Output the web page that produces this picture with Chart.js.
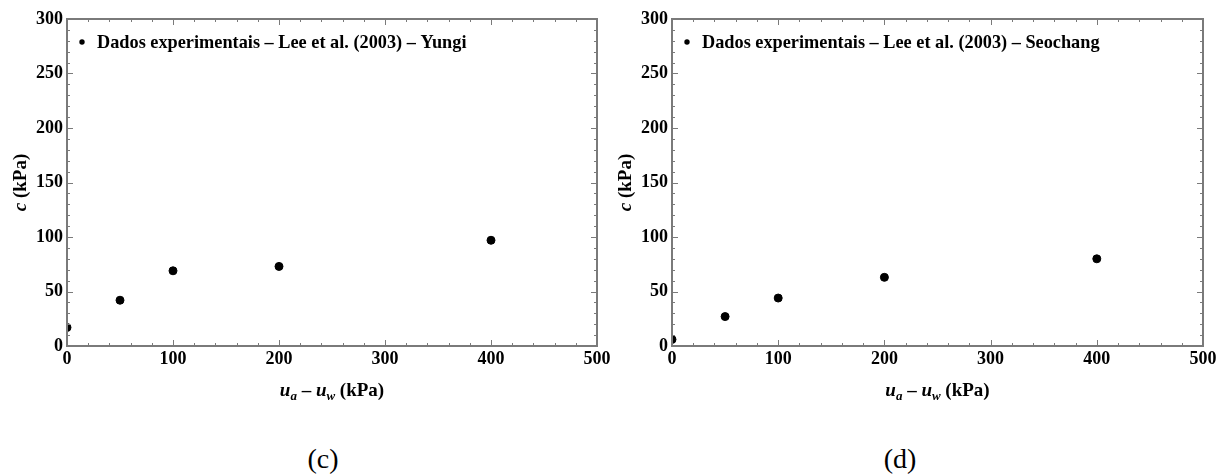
<!DOCTYPE html>
<html>
<head>
<meta charset="utf-8">
<script src="https://cdn.jsdelivr.net/npm/chart.js@4.4.1/dist/chart.umd.min.js"></script>
<style>
  body { margin: 0; background: #fff; width: 1217px; height: 475px; position: relative; overflow: hidden; }
  .panel { position: absolute; top: 0; height: 420px; }
  .cap { position: absolute; top: 444px; width: 100px; text-align: center;
         font: 28px "Liberation Serif", serif; line-height: 30px; color: #000; }
</style>
</head>
<body>
<div class="panel" style="left:0;width:620px"><canvas id="chartC"></canvas></div>
<div class="panel" style="left:605px;width:612px"><canvas id="chartD"></canvas></div>
<div class="cap" style="left:273px">(c)</div>
<div class="cap" style="left:850px">(d)</div>
<script>
// suction (kPa) and apparent cohesion (kPa)
const suction = [0, 50, 100, 200, 400];
const cohesionYungi = [17, 42, 69, 73, 97];
const cohesionSeochang = [6, 27, 44, 63, 80];

const xTicks = [0, 100, 200, 300, 400, 500];
const yTicks = [0, 50, 100, 150, 200, 250, 300];
const xMinorStep = 20;
const yMinorStep = 10;

const serif = '"Liberation Serif", "Times New Roman", serif';
const axisGray = '#7a7a7a';

// closed frame with inward ticks on all four sides
const framePlugin = {
  id: 'frame',
  afterDatasetsDraw(chart) {
    const ctx = chart.ctx;
    const { left, right, top, bottom } = chart.chartArea;
    const xs = chart.scales.x, ys = chart.scales.y;
    ctx.save();
    ctx.strokeStyle = axisGray;
    ctx.lineWidth = 1;
    ctx.beginPath();
    for (let v = xs.min; v <= xs.max; v += xMinorStep) {
      const px = Math.round(xs.getPixelForValue(v)) + 0.5;
      const len = xTicks.includes(v) ? 6 : 3;
      ctx.moveTo(px, bottom); ctx.lineTo(px, bottom - len);
      ctx.moveTo(px, top); ctx.lineTo(px, top + len);
    }
    for (let v = ys.min; v <= ys.max; v += yMinorStep) {
      const py = Math.round(ys.getPixelForValue(v)) + 0.5;
      const len = yTicks.includes(v) ? 6 : 3;
      ctx.moveTo(left, py); ctx.lineTo(left + len, py);
      ctx.moveTo(right, py); ctx.lineTo(right - len, py);
    }
    ctx.stroke();
    ctx.lineWidth = 2;
    ctx.strokeRect(left, top, right - left, bottom - top);
    ctx.restore();
  },
  afterDraw(chart) {
    const ctx = chart.ctx;
    const { left, right, top, bottom } = chart.chartArea;
    ctx.save();
    ctx.fillStyle = '#000';

    // legend inside the plot
    ctx.beginPath();
    ctx.arc(left + 15, top + 23, 2.7, 0, Math.PI * 2);
    ctx.fill();
    ctx.font = 'bold 18.3px ' + serif;
    ctx.textBaseline = 'alphabetic';
    ctx.textAlign = 'left';
    ctx.fillText(chart.data.datasets[0].label, left + 30, top + 29);

    // x title: u_a − u_w (kPa)
    const big = 'bold 19px ' + serif, bigI = 'italic bold 19px ' + serif, sub = 'italic bold 13px ' + serif;
    const parts = [
      [bigI, 'u', 0], [sub, 'a', 4], [big, ' \u2013 ', 0],
      [bigI, 'u', 0], [sub, 'w', 4], [big, ' (kPa)', 0]
    ];
    let w = 0;
    parts.forEach(p => { ctx.font = p[0]; w += ctx.measureText(p[1]).width; });
    let x = (left + right) / 2 - w / 2;
    const base = bottom + 50;
    parts.forEach(p => {
      ctx.font = p[0];
      ctx.fillText(p[1], x, base + p[2]);
      x += ctx.measureText(p[1]).width;
    });

    // y title: c (kPa)
    const yParts = [[bigI, 'c', 0], [big, ' (kPa)', 0]];
    let h = 0;
    yParts.forEach(p => { ctx.font = p[0]; h += ctx.measureText(p[1]).width; });
    ctx.translate(26, (top + bottom) / 2);
    ctx.rotate(-Math.PI / 2);
    let t = -h / 2;
    yParts.forEach(p => {
      ctx.font = p[0];
      ctx.fillText(p[1], t, 0);
      t += ctx.measureText(p[1]).width;
    });
    ctx.restore();
  }
};

function makeChart(id, label, values, rightPad) {
  const ctx = document.getElementById(id).getContext('2d');
  return new Chart(ctx, {
    type: 'scatter',
    data: {
      datasets: [{
        label: label,
        data: suction.map((s, i) => ({ x: s, y: values[i] })),
        backgroundColor: '#000',
        borderColor: '#000',
        pointRadius: 4,
        pointHoverRadius: 4,
        clip: 0
      }]
    },
    options: {
      responsive: true,
      maintainAspectRatio: false,
      animation: false,
      layout: { padding: { top: 19, right: rightPad, left: 0, bottom: 0 } },
      plugins: { legend: { display: false }, tooltip: { enabled: false } },
      scales: {
        x: {
          type: 'linear', min: 0, max: 500,
          grid: { display: false, drawTicks: false }, border: { display: false },
          afterBuildTicks: s => { s.ticks = xTicks.map(v => ({ value: v })); },
          afterFit: s => { s.height = 74; s.paddingLeft = 0; s.paddingRight = 0; },
          ticks: { padding: 3, color: '#000', font: { family: serif, weight: 'bold', size: 18 } }
        },
        y: {
          type: 'linear', min: 0, max: 300,
          grid: { display: false, drawTicks: false }, border: { display: false },
          afterBuildTicks: s => { s.ticks = yTicks.map(v => ({ value: v })); },
          afterFit: s => { s.width = 67; s.paddingTop = 0; s.paddingBottom = 0; },
          ticks: { padding: 4, color: '#000', font: { family: serif, weight: 'bold', size: 18 } }
        }
      }
    },
    plugins: [framePlugin]
  });
}

makeChart('chartC', 'Dados experimentais \u2013 Lee et al. (2003) \u2013 Yungi', cohesionYungi, 23);
makeChart('chartD', 'Dados experimentais \u2013 Lee et al. (2003) \u2013 Seochang', cohesionSeochang, 14);
</script>
</body>
</html>
